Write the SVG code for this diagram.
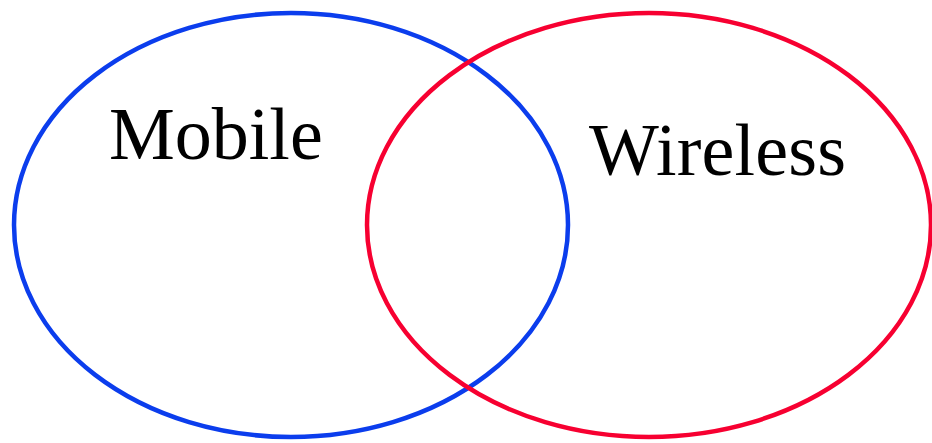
<svg xmlns="http://www.w3.org/2000/svg" width="932" height="443" viewBox="0 0 932 443">
<style>
.set{fill:none;stroke-width:4.5}
.lbl{font-family:"Liberation Serif","Times New Roman",serif;font-size:74px;fill:#000}
</style>
<rect width="932" height="443" fill="#fff"/>
<g id="mobile">
<ellipse class="set" cx="291" cy="225" rx="277" ry="212" stroke="#0b3ded"/>
<text class="lbl" x="109" y="159">Mobile</text>
</g>
<g id="wireless">
<ellipse class="set" cx="649" cy="225" rx="282" ry="212" stroke="#f70031"/>
<text class="lbl" x="589" y="175" textLength="257">Wireless</text>
</g>
<g id="connectors"></g>
</svg>
